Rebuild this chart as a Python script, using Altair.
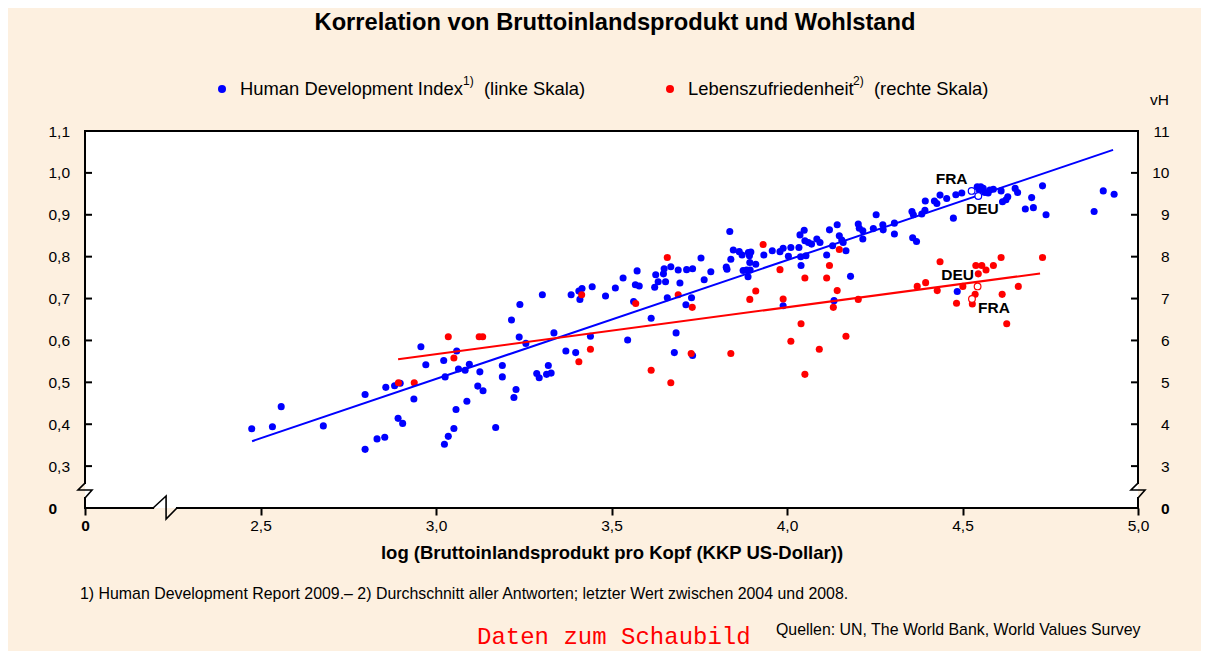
import altair as alt
import pandas as pd

# ---------------- data ----------------
hdi_x = [2.475, 2.534, 2.559, 2.679, 2.798, 2.798, 2.832, 2.854, 2.857, 2.882,
         2.898, 2.892, 2.905, 2.937, 2.957, 2.971, 3.022, 3.026, 3.024, 3.035,
         3.051, 3.057, 3.059, 3.064, 3.083, 3.095, 3.088, 3.119, 3.134, 3.125,
         3.170, 3.189, 3.189, 3.215, 3.222, 3.228, 3.237, 3.239, 3.256, 3.303,
         3.336, 3.287, 3.294, 3.315, 3.320, 3.328, 3.370, 3.398, 3.385, 3.407,
         3.416, 3.410, 3.445, 3.440, 3.483, 3.511, 3.533, 3.546, 3.563, 3.568,
         3.579, 3.573, 3.613, 3.626, 3.633, 3.623, 3.648, 3.650, 3.654, 3.669,
         3.659, 3.690, 3.695, 3.684, 3.679, 3.712, 3.728, 3.714, 3.731, 3.731,
         3.755, 3.764, 3.783, 3.827, 3.829, 3.837, 3.840, 3.847, 3.864, 3.872,
         3.890, 3.897, 3.893, 3.875, 3.885, 3.895, 3.889, 3.894, 3.911, 3.934,
         3.958, 3.980, 3.989, 4.004, 4.011, 4.034, 4.037, 4.049, 4.051, 4.061,
         4.070, 4.085, 4.094, 4.039, 4.054, 4.040, 4.113, 4.121, 4.130, 4.143,
         4.149, 4.156, 4.160, 4.168, 4.181, 4.203, 4.206, 4.216, 4.216, 4.246,
         4.254, 4.273, 4.274, 4.306, 4.306, 4.356, 4.360, 4.358, 4.369, 4.384,
         4.393, 4.394, 4.420, 4.427, 4.436, 4.455, 4.481, 4.498, 4.474, 3.989,
         4.134, 4.485, 4.542, 4.552, 4.559, 4.548, 4.564, 4.573, 4.588, 4.578,
         4.610, 4.614, 4.624, 4.629, 4.650, 4.657, 4.679, 4.702, 4.697, 4.728,
         4.738, 4.875, 4.901, 4.932]
hdi_y = [0.389, 0.394, 0.442, 0.396, 0.471, 0.340, 0.365, 0.369, 0.488, 0.492,
         0.498, 0.414, 0.402, 0.460, 0.585, 0.542, 0.552, 0.513, 0.352, 0.371,
         0.390, 0.435, 0.575, 0.532, 0.529, 0.543, 0.455, 0.491, 0.480, 0.525,
         0.392, 0.540, 0.513, 0.649, 0.464, 0.483, 0.608, 0.686, 0.593, 0.709,
         0.618, 0.521, 0.511, 0.519, 0.540, 0.522, 0.575, 0.571, 0.709, 0.718,
         0.724, 0.698, 0.728, 0.610, 0.706, 0.725, 0.749, 0.601, 0.693, 0.733,
         0.730, 0.766, 0.653, 0.757, 0.740, 0.727, 0.759, 0.771, 0.740, 0.776,
         0.702, 0.768, 0.737, 0.618, 0.571, 0.685, 0.702, 0.769, 0.771, 0.564,
         0.797, 0.745, 0.764, 0.775, 0.770, 0.860, 0.794, 0.816, 0.812, 0.804,
         0.810, 0.811, 0.802, 0.767, 0.768, 0.768, 0.752, 0.786, 0.782, 0.804,
         0.814, 0.812, 0.820, 0.801, 0.822, 0.822, 0.852, 0.863, 0.838, 0.834,
         0.830, 0.842, 0.834, 0.800, 0.802, 0.779, 0.804, 0.864, 0.826, 0.876,
         0.850, 0.840, 0.834, 0.814, 0.753, 0.878, 0.868, 0.862, 0.842, 0.867,
         0.900, 0.876, 0.864, 0.880, 0.854, 0.908, 0.900, 0.845, 0.836, 0.902,
         0.911, 0.933, 0.933, 0.927, 0.947, 0.939, 0.948, 0.952, 0.892, 0.683,
         0.695, 0.717, 0.967, 0.967, 0.963, 0.959, 0.953, 0.952, 0.961, 0.959,
         0.957, 0.931, 0.936, 0.943, 0.963, 0.953, 0.914, 0.917, 0.941, 0.969,
         0.900, 0.908, 0.957, 0.949]

ls_x = [2.893, 2.938, 3.035, 3.051, 3.123, 3.133, 3.415, 3.407, 3.440, 3.569,
        3.659, 3.690, 3.730, 3.613, 3.669, 3.727, 3.840, 3.894, 3.911, 3.932,
        3.980, 3.989, 4.051, 4.040, 4.011, 4.092, 4.051, 4.113, 4.121, 4.149,
        4.143, 4.132, 4.168, 4.203, 4.371, 4.395, 4.428, 4.436, 4.483, 4.538,
        4.555, 4.567, 4.588, 4.610, 4.545, 4.501, 4.528, 4.536, 4.613, 4.659,
        4.626, 4.728]
ls_y = [4.99, 4.99, 6.09, 5.58, 6.09, 6.09, 7.09, 5.49, 5.79, 6.88,
        7.98, 7.09, 6.79, 5.29, 4.99, 5.69, 5.69, 6.98, 7.18, 8.29,
        7.69, 6.99, 7.49, 6.40, 5.98, 5.79, 5.19, 7.49, 7.79, 8.17,
        7.19, 6.79, 6.10, 6.98, 7.29, 7.38, 7.19, 7.88, 6.89, 7.79,
        7.79, 7.68, 7.79, 7.98, 7.59, 7.29, 6.87, 7.10, 7.10, 7.29,
        6.40, 7.98]

# highlighted countries
hl_names = ["FRA", "DEU"]
hl_hdi_x = [4.526, 4.545]
hl_hdi_y = [0.957, 0.945]
hl_ls_x = [4.527, 4.543]
hl_ls_y = [6.99, 7.29]

# regression lines (end points)
fit_hdi_x = [2.476, 4.929]
fit_hdi_y = [0.3595, 1.055]
fit_ls_x = [2.892, 4.721]
fit_ls_y = [5.55, 7.60]

x_tick_vals = [2.0, 2.5, 3.0, 3.5, 4.0, 4.5, 5.0]
y_tick_vals = [0.2, 0.3, 0.4, 0.5, 0.6, 0.7, 0.8, 0.9, 1.0, 1.1]

# axis-break decoration (in axis units)
frame_x = [2.0, 2.0, 2.262, 2.0, 2.0, 5.0, 5.0]
frame_x2 = [5.0, 2.194, 5.0, 2.0, 2.0, 5.0, 5.0]
frame_y = [1.1, 0.2, 0.2, 1.1, 0.2238, 1.1, 0.2238]
frame_y2 = [1.1, 0.2, 0.2, 0.2595, 0.2, 0.2595, 0.2]
zig_g = ["b", "b", "b", "b", "l", "l", "l", "l", "r", "r", "r", "r"]
zig_o = [0, 1, 2, 3, 0, 1, 2, 3, 0, 1, 2, 3]
zig_x = [2.194, 2.231, 2.231, 2.262, 2.0, 1.980, 2.020, 2.0, 5.0, 4.980, 5.020, 5.0]
zig_y = [0.2, 0.2286, 0.1738, 0.2, 0.2595, 0.2429, 0.2429, 0.2238, 0.2595, 0.2429, 0.2429, 0.2238]

# ---------------- styling ----------------
BG = "#FDF0E0"
BLUE = "#0000FF"
RED = "#FF0000"
FONT = "Liberation Sans"
W, H = 1053, 377

xscale = alt.Scale(domain=[2.0, 5.0], nice=False, zero=False)
yscale = alt.Scale(domain=[0.2, 1.1], nice=False, zero=False)

hdi = pd.DataFrame({"x": hdi_x, "y": hdi_y})
ls = pd.DataFrame({"x": ls_x, "v": ls_y})
hl_hdi = pd.DataFrame({"x": hl_hdi_x, "y": hl_hdi_y, "n": hl_names})
hl_ls = pd.DataFrame({"x": hl_ls_x, "v": hl_ls_y, "n": hl_names})
fit_hdi = pd.DataFrame({"x": fit_hdi_x, "y": fit_hdi_y})
fit_ls = pd.DataFrame({"x": fit_ls_x, "v": fit_ls_y})
frame = pd.DataFrame({"x": frame_x, "x2": frame_x2, "y": frame_y, "y2": frame_y2})
zig = pd.DataFrame({"x": zig_x, "y": zig_y, "g": zig_g, "o": zig_o})

bold0_x = {"condition": {"test": "datum.value < 2.1", "value": "bold"}, "value": "normal"}
bold0_y = {"condition": {"test": "datum.value < 0.25", "value": "bold"}, "value": "normal"}

x_axis = alt.Axis(values=x_tick_vals, title=None, grid=False, domain=False, orient="bottom",
                  ticks=True, tickSize=7, tickWidth=2, tickColor="black",
                  labelFont=FONT, labelFontSize=15.5, labelColor="black", labelPadding=3,
                  labelFlush=False, labelOverlap=False, labelFontWeight=bold0_x,
                  labelExpr="datum.value < 2.1 ? '0' : replace(format(datum.value, '.1f'), '.', ',')")
left_axis = alt.Axis(values=y_tick_vals, title=None, grid=False, domain=False,
                     ticks=False, tickSize=0, orient="left",
                     labelFont=FONT, labelFontSize=15.5, labelColor="black",
                     labelFlush=False, labelOverlap=False,
                     labelAlign="left", labelPadding=37, labelFontWeight=bold0_y,
                     labelExpr="datum.value < 0.25 ? '0' : replace(format(datum.value, '.1f'), '.', ',')")
right_axis = alt.Axis(values=y_tick_vals, title=None, grid=False, domain=False,
                      ticks=False, tickSize=0, orient="right",
                      labelFont=FONT, labelFontSize=15.5, labelColor="black",
                      labelFlush=False, labelOverlap=False,
                      labelAlign="right", labelPadding=31, labelFontWeight=bold0_y,
                      labelExpr="datum.value < 0.25 ? '0' : format(round(datum.value * 10), 'd')")

X = lambda ax=None: alt.X("x:Q", scale=xscale, axis=ax)
Y = lambda ax=None: alt.Y("y:Q", scale=yscale, axis=ax)

blue_pts = alt.Chart(hdi).mark_circle(size=50, color=BLUE, opacity=1).encode(
    x=X(x_axis), y=Y(left_axis))
red_pts = alt.Chart(ls).transform_calculate(y="datum.v / 10").mark_circle(
    size=50, color=RED, opacity=1).encode(x=X(), y=Y(right_axis))
blue_fit = alt.Chart(fit_hdi).mark_line(color=BLUE, strokeWidth=2).encode(x=X(), y=Y())
red_fit = alt.Chart(fit_ls).transform_calculate(y="datum.v / 10").mark_line(
    color=RED, strokeWidth=2).encode(x=X(), y=Y())
blue_hl = alt.Chart(hl_hdi).mark_point(size=45, shape="circle", fill="white", filled=True,
                                        stroke=BLUE, strokeWidth=1.2, opacity=1).encode(x=X(), y=Y())
red_hl = alt.Chart(hl_ls).transform_calculate(y="datum.v / 10").mark_point(
    size=45, shape="circle", fill="white", filled=True, stroke=RED, strokeWidth=1.2,
    opacity=1).encode(x=X(), y=Y())


def country_label(df, name, dx, dy, calc=False):
    c = alt.Chart(df)
    if calc:
        c = c.transform_calculate(y="datum.v / 10")
    return c.transform_filter(alt.datum.n == name).mark_text(
        font=FONT, fontSize=15.5, fontWeight="bold", color="black", dx=dx, dy=dy,
        align="center", baseline="middle").encode(x=X(), y=Y(), text="n:N")


labels = [
    country_label(hl_hdi, "FRA", -20, -12),
    country_label(hl_hdi, "DEU", 4, 13),
    country_label(hl_ls, "DEU", -20, -11, True),
    country_label(hl_ls, "FRA", 22, 9, True),
]

left_ticks = alt.Chart(pd.DataFrame({"y": y_tick_vals[1:]})).mark_rule(
    color="black", strokeWidth=2).encode(y=Y(), x=alt.value(0), x2=alt.value(7))
right_ticks = alt.Chart(pd.DataFrame({"y": y_tick_vals[1:]})).mark_rule(
    color="black", strokeWidth=2).encode(y=Y(), x=alt.value(W - 7), x2=alt.value(W))
frame_rules = alt.Chart(frame).mark_rule(color="black", strokeWidth=2, strokeCap="square").encode(
    x=X(), x2="x2:Q", y=Y(), y2="y2:Q")
zigzags = alt.Chart(zig).mark_line(color="black", strokeWidth=1.6).encode(
    x=X(), y=Y(), detail="g:N", order="o:Q")

ONE = alt.Data(values=[{"a": 1}])


def txt(s, x, y, size, weight="normal", align="left", color="black", font=FONT):
    return alt.Chart(ONE).mark_text(fontSize=size, fontWeight=weight, align=align,
                                    color=color, font=font, baseline="alphabetic").encode(
        x=alt.value(x), y=alt.value(y), text=alt.value(s))


def dot(x, y, color):
    return alt.Chart(ONE).mark_circle(size=64, color=color, opacity=1).encode(
        x=alt.value(x), y=alt.value(y))


texts = [
    txt("Korrelation von Bruttoinlandsprodukt und Wohlstand", 530, -101, 23.7, "bold", "center"),
    dot(137, -42, BLUE),
    txt("Human Development Index", 155, -36, 18.4),
    txt("1)", 378, -46, 12),
    txt("(linke Skala)", 399, -36, 18.4),
    dot(585, -42, RED),
    txt("Lebenszufriedenheit", 603, -36, 18.4),
    txt("2)", 768, -46, 12),
    txt("(rechte Skala)", 789, -36, 18.4),
    txt("vH", 1084, -26, 15.5, align="right"),
    txt("log (Bruttoinlandsprodukt pro Kopf (KKP US-Dollar))", 527, 428, 18.5, "bold", "center"),
    txt("1) Human Development Report 2009.\u2013 2) Durchschnitt aller Antworten; letzter Wert zwischen 2004 und 2008.",
        -5, 468, 15.9),
    txt("Quellen: UN, The World Bank, World Values Survey", 691, 504, 15.9),
    txt("Daten zum Schaubild", 392, 513, 24, color=RED, font="Liberation Mono"),
]

chart = alt.layer(
    blue_pts, red_pts, blue_fit, red_fit, blue_hl, red_hl, *labels,
    left_ticks, right_ticks, frame_rules, zigzags, *texts
).resolve_axis(x="independent", y="independent").properties(
    width=W, height=H,
    autosize=alt.AutoSizeParams(type="none"),
    padding={"left": 77, "top": 123, "right": 63, "bottom": 143},
    background=BG,
).configure_view(stroke=None, fill="white")

chart.save("out.html", embed_options={"renderer": "svg", "actions": False})
